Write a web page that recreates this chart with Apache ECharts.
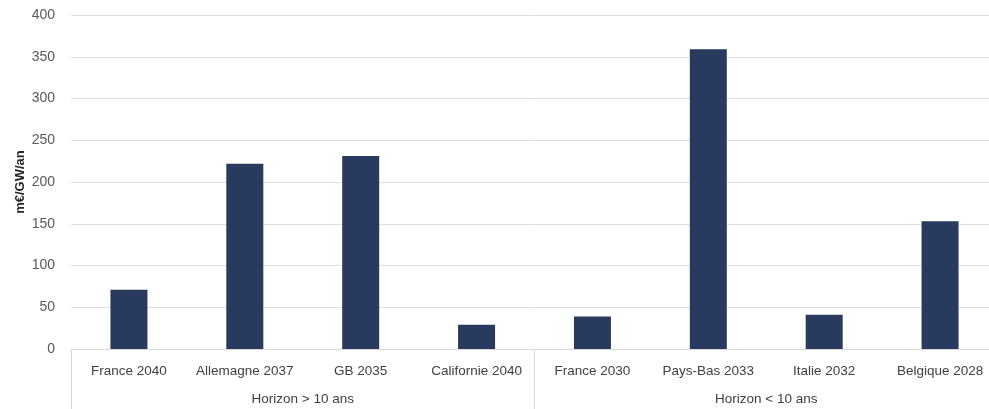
<!DOCTYPE html>
<html>
<head>
<meta charset="utf-8">
<script src="https://cdn.jsdelivr.net/npm/echarts@6/dist/echarts.min.js"></script>
<style>
  html, body { margin: 0; padding: 0; background: #fff; overflow: hidden; }
  /* canvas is slightly wider than the window so the plot runs past the right edge */
  #chart { width: 998px; height: 409px; }
</style>
</head>
<body>
<div id="chart"></div>
<script>
// Capacity cost per market (m€/GW/an), grouped by horizon
const categories = ['France 2040', 'Allemagne 2037', 'GB 2035', 'Californie 2040',
                    'France 2030', 'Pays-Bas 2033', 'Italie 2032', 'Belgique 2028'];
const values = [71, 222, 231, 29, 39, 359, 41, 153];
const groups = ['Horizon > 10 ans', 'Horizon < 10 ans'];
const yTicks = { min: 0, max: 400, interval: 50 };
const yName = 'm€/GW/an';

const chart = echarts.init(document.getElementById('chart'), null, { renderer: 'canvas' });
const font = 'Liberation Sans, Arial, sans-serif';

chart.setOption({
  animation: false,
  grid: { left: 71, top: 15, right: 0, bottom: 60 },
  xAxis: [
    {
      type: 'category',
      data: categories,
      axisLine: { show: true, lineStyle: { color: '#d9d9d9', width: 1 } },
      axisTick: { show: false },
      axisLabel: { color: '#404040', fontSize: 13.5, fontFamily: font, margin: 15, interval: 0 },
      splitLine: { show: false }
    },
    {
      type: 'category',
      data: groups,
      position: 'bottom',
      boundaryGap: true,
      axisLine: { show: false },
      axisTick: { show: true, interval: 0, length: 62, lineStyle: { color: '#d9d9d9', width: 1 } },
      axisLabel: { color: '#404040', fontSize: 13.5, fontFamily: font, margin: 43 },
      splitLine: { show: false }
    }
  ],
  yAxis: {
    type: 'value',
    min: yTicks.min,
    max: yTicks.max,
    interval: yTicks.interval,
    name: yName,
    nameLocation: 'middle',
    nameRotate: 90,
    nameGap: 44,
    nameMoveOverlap: false,
    nameTextStyle: { color: '#262626', fontSize: 13, fontWeight: 'bold', fontFamily: font },
    axisLine: { show: false },
    axisTick: { show: false },
    axisLabel: { color: '#595959', fontSize: 14, fontFamily: font, margin: 16 },
    splitLine: { lineStyle: { color: '#dedede', width: 1 } }
  },
  series: [{
    type: 'bar',
    data: values,
    xAxisIndex: 0,
    barWidth: 37,
    itemStyle: { color: '#283a5d' }
  }]
});
</script>
</body>
</html>
